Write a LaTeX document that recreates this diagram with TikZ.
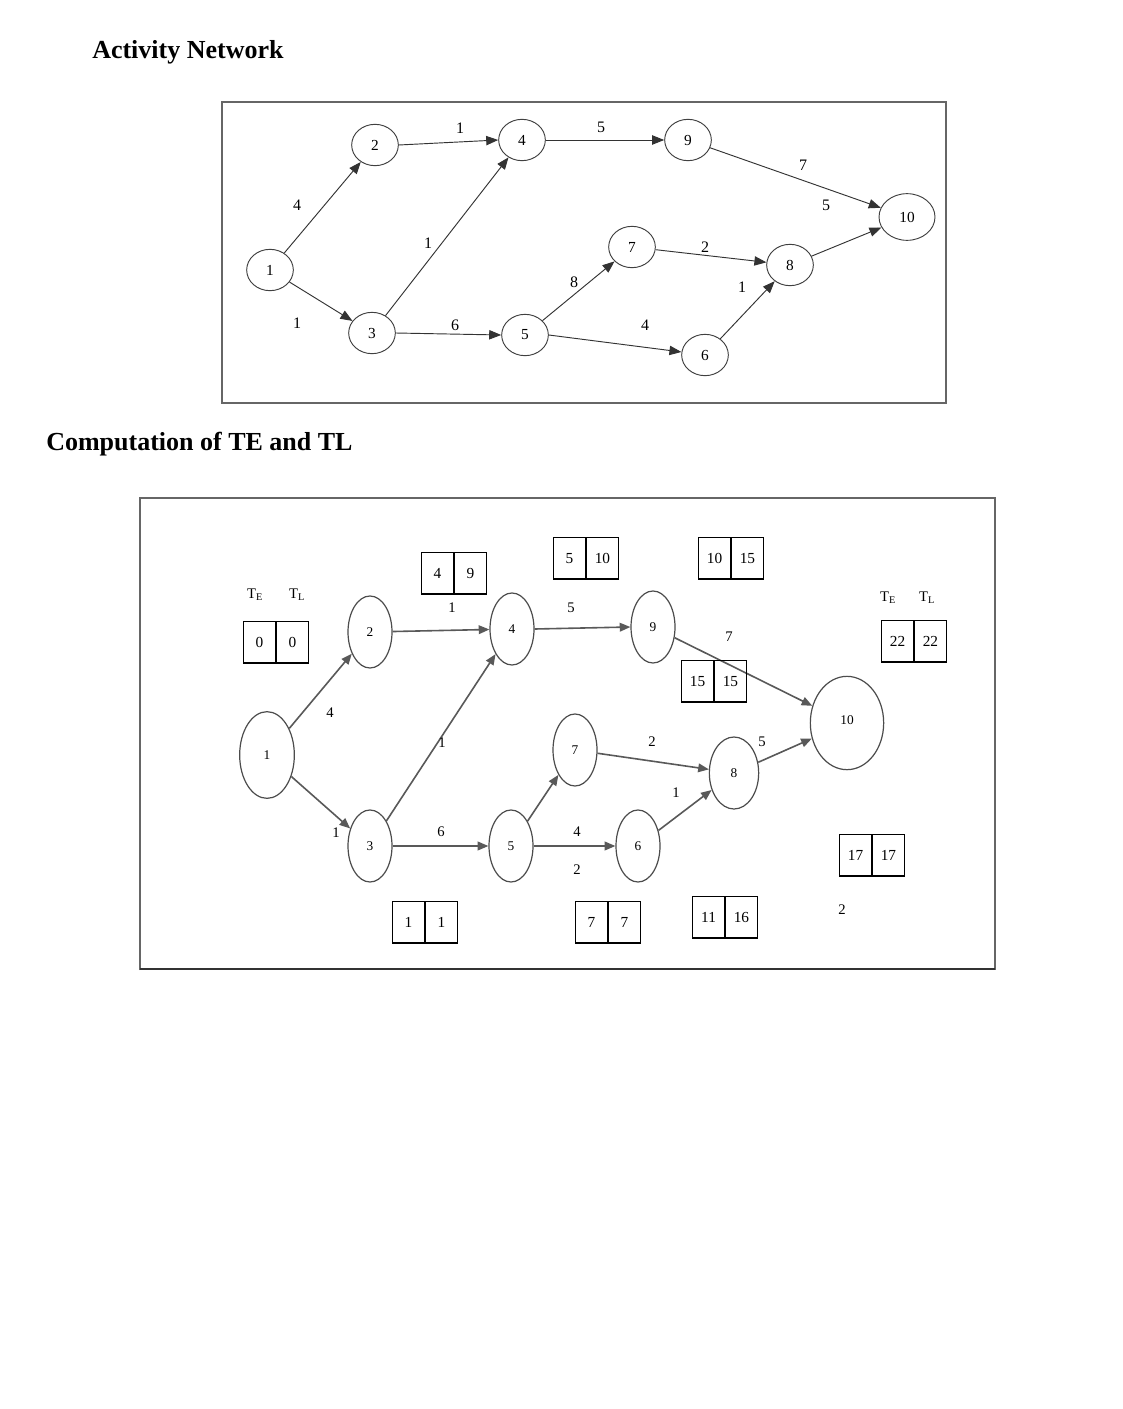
\documentclass[tikz,border=0pt]{standalone}
\usepackage{fontspec}
\setmainfont{Liberation Serif}
\usetikzlibrary{arrows.meta,shapes.geometric}
\begin{document}
\begin{tikzpicture}[x=0.75pt,y=-0.75pt,
  tn/.style={draw=black!75,ellipse,line width=0.7pt,minimum width=35pt,minimum height=31pt,inner sep=0pt,font=\fontsize{11.5}{12}\selectfont},
  bn/.style={draw=black!70,ellipse,line width=0.9pt,minimum width=33pt,minimum height=54pt,inner sep=0pt,font=\fontsize{10}{11}\selectfont},
  tarr/.style={-{Triangle[length=9pt,width=7pt]},line width=0.7pt,black!80},
  barr/.style={-{Triangle[length=8pt,width=6.5pt]},line width=1.2pt,black!65},
  lab/.style={font=\fontsize{12}{13}\selectfont,inner sep=0pt},
  blab/.style={font=\fontsize{11}{12}\selectfont,inner sep=0pt},
  cell/.style={draw=black,line width=0.7pt,minimum width=24pt,minimum height=31pt,inner sep=0pt,anchor=north,font=\fontsize{11.5}{12}\selectfont},
  ttl/.style={font=\fontsize{19.5}{21}\selectfont\bfseries,anchor=west,inner sep=0pt}]
\useasboundingbox (0,0) rectangle (1123,1409);
\fill[white] (0,0) rectangle (1123,1409);
\newcommand{\tbx}[5]{%
  \node[cell,anchor=north east] (#1a) at (#2,#3) {#4};
  \node[cell,anchor=north west] (#1b) at (#2,#3) {#5};
  \draw[line width=1.5pt] (#1a.south west) -- (#1b.south east);}
% titles
\node[ttl] (t1) at (92,52) {Activity Network};
\node[ttl] (t2) at (46,444) {Computation of TE and TL};
% top frame
\draw[black!60,line width=0.8pt] (222,102) rectangle (946,403);
\node[tn] (a1) at (270,270) {1};
\node[tn] (a2) at (375,145) {2};
\node[tn] (a3) at (372,333) {3};
\node[tn] (a4) at (522,140) {4};
\node[tn] (a5) at (525,335) {5};
\node[tn] (a7) at (632,247) {7};
\node[tn] (a9) at (688,140) {9};
\node[tn] (a6) at (705,355) {6};
\node[tn] (a8) at (790,265) {8};
\node[tn,minimum width=42pt,minimum height=35pt] (a10) at (907,217) {10};
\draw[tarr] (a1) -- (a2);
\draw[tarr] (a1) -- (a3);
\draw[tarr] (a2.east) -- (a4.west);
\draw[tarr] (a3) -- (a4);
\draw[tarr] (a3.east) -- (a5.west);
\draw[tarr] (a4.east) -- (a9.west);
\draw[tarr] (a5) -- (a7);
\draw[tarr] (a5.east) -- (a6);
\draw[tarr] (a7) -- (a8);
\draw[tarr] (a6) -- (a8);
\draw[tarr] (a9) -- (a10);
\draw[tarr] (a8) -- (a10);
\node[lab] (l12) at (297,205) {4};
\node[lab] (l13) at (297,323) {1};
\node[lab] (l24) at (460,128) {1};
\node[lab] (l34) at (428,243) {1};
\node[lab] (l35) at (455,325) {6};
\node[lab] (l49) at (601,127) {5};
\node[lab] (l57) at (574,282) {8};
\node[lab] (l56) at (645,325) {4};
\node[lab] (l78) at (705,247) {2};
\node[lab] (l68) at (742,287) {1};
\node[lab] (l910) at (803,165) {7};
\node[lab] (l810) at (826,205) {5};
% bottom frame
\draw[black!60,line width=0.8pt] (140,970) -- (140,498) -- (995,498) -- (995,970);
\draw[black!80,line width=1.8pt] (140,969) -- (995,969);
\node[bn,minimum width=41pt,minimum height=65pt] (b1) at (267,755) {1};
\node[bn] (b2) at (370,632) {2};
\node[bn] (b3) at (370,846) {3};
\node[bn] (b4) at (512,629) {4};
\node[bn] (b5) at (511,846) {5};
\node[bn] (b7) at (575,750) {7};
\node[bn] (b9) at (653,627) {9};
\node[bn] (b6) at (638,846) {6};
\node[bn,minimum width=37pt] (b8) at (734,773) {8};
\node[bn,minimum width=55pt,minimum height=70pt,text depth=0pt] (b10) at (847,723) {\raisebox{4pt}{10}};
\draw[barr] (b1) -- (b2);
\draw[barr] (b1) -- (b3);
\draw[barr] (b2) -- (b4);
\draw[barr] (b3) -- (b4);
\draw[barr] (b3.east) -- (b5.west);
\draw[barr] (b4.east) -- (b9.west);
\draw[barr] (b5) -- (b7);
\draw[barr] (b5.east) -- (b6.west);
\draw[barr] (b7) -- (b8);
\draw[barr] (b6) -- (b8);
\draw[barr] (b9) -- (b10);
\draw[barr] (b8) -- (b10);
\node[blab] (m12) at (330,713) {4};
\node[blab] (m13) at (336,833) {1};
\node[blab] (m24) at (452,608) {1};
\node[blab] (m34) at (442,743) {1};
\node[blab] (m35) at (441,832) {6};
\node[blab] (m49) at (571,608) {5};
\node[blab] (m910) at (729,637) {7};
\node[blab] (m78) at (652,742) {2};
\node[blab] (m810) at (762,742) {5};
\node[blab] (m68) at (676,793) {1};
\node[blab] (m56a) at (577,832) {4};
\node[blab] (m56b) at (577,870) {2};
\node[blab] (m2x) at (842,910) {2};
\node[blab] (te1) at (255,595) {T\textsubscript{E}};
\node[blab] (tl1) at (297,595) {T\textsubscript{L}};
\node[blab] (te2) at (888,598) {T\textsubscript{E}};
\node[blab] (tl2) at (927,598) {T\textsubscript{L}};
\tbx{x00}{276}{621}{0}{0}
\tbx{x49}{454}{552}{4}{9}
\tbx{x510}{586}{537}{5}{10}
\tbx{x1015}{731}{537}{10}{15}
\tbx{x1515}{714}{660}{15}{15}
\tbx{x2222}{914}{620}{22}{22}
\tbx{x1717}{872}{834}{17}{17}
\tbx{x11}{425}{901}{1}{1}
\tbx{x77}{608}{901}{7}{7}
\tbx{x1116}{725}{896}{11}{16}
\end{tikzpicture}
\end{document}
